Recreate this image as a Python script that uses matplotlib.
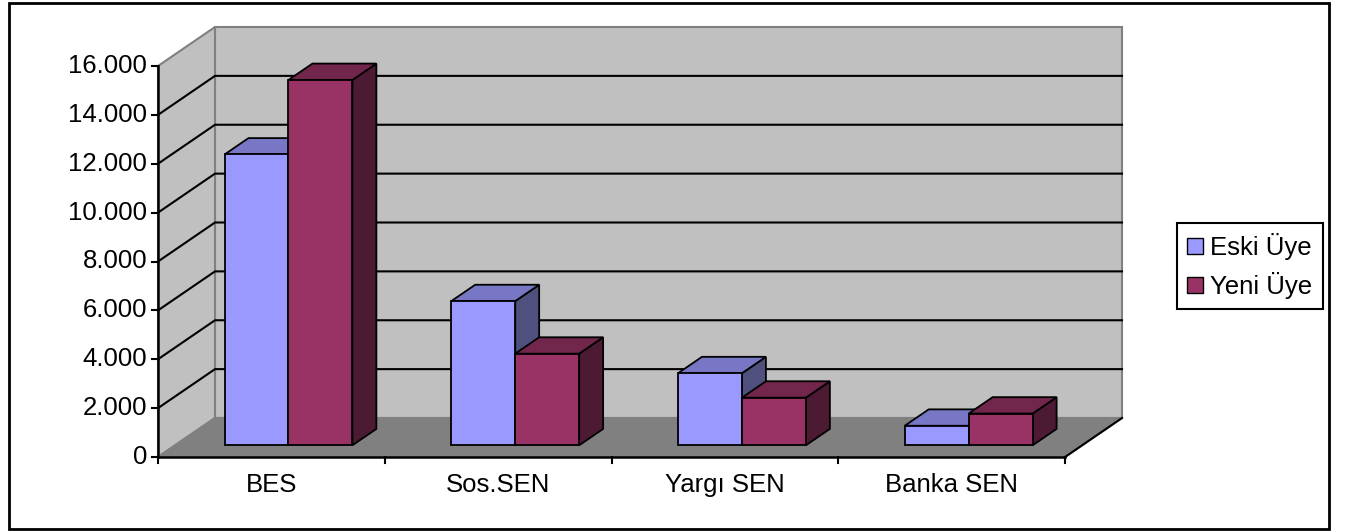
import matplotlib.pyplot as plt
from matplotlib.patches import Polygon, Rectangle, Patch

plt.rcParams['font.family'] = ['Liberation Sans', 'DejaVu Sans']

categories = ["BES", "Sos.SEN", "Yargı SEN", "Banka SEN"]
eski_uye = [11900, 5900, 2950, 800]
yeni_uye = [14950, 3750, 1950, 1300]
series_names = ["Eski Üye", "Yeni Üye"]
y_ticks = [0, 2000, 4000, 6000, 8000, 10000, 12000, 14000, 16000]

# colours: front, top, side
eski_cols = ("#9999FF", "#7777C6", "#50507F")
yeni_cols = ("#993366", "#73264C", "#4D1A33")

# pixel layout of the front plane
W, H = 1346, 531
X0_PX, Y0_PX = 158, 457          # origin of front axes (from top)
CAT_PX = 226.75                  # px per category
VAL_PX = 391 / 16000             # px per value unit
DX = 57 / CAT_PX                 # depth shift in category units
DY = 39 / VAL_PX                 # depth shift in value units
YMAX = 16000
NCAT = len(categories)

fig = plt.figure(figsize=(W / 100, H / 100), dpi=100)
ax = fig.add_axes([0, 0, 1, 1])
ax.axis('off')
ax.set_xlim(-X0_PX / CAT_PX, (W - X0_PX) / CAT_PX)
ax.set_ylim(-(H - Y0_PX) / VAL_PX, Y0_PX / VAL_PX)


def P(x, v, d):
    return (x + d * DX, v + d * DY)


def poly(pts, fc, ec='black', lw=1.3, z=2):
    ax.add_patch(Polygon(pts, closed=True, facecolor=fc, edgecolor=ec,
                         linewidth=lw, joinstyle='miter', zorder=z))


# walls and floor
poly([P(0, 0, 1), P(NCAT, 0, 1), P(NCAT, YMAX, 1), P(0, YMAX, 1)], "#C0C0C0", "#808080", 1.5, 1)
poly([P(0, 0, 0), P(0, 0, 1), P(0, YMAX, 1), P(0, YMAX, 0)], "#C0C0C0", "#808080", 1.5, 1)
poly([P(0, 0, 0), P(NCAT, 0, 0), P(NCAT, 0, 1), P(0, 0, 1)], "#808080", "#808080", 1.5, 1)

# gridlines
for v in y_ticks[1:-1]:
    xs, ys = zip(P(0, v, 0), P(0, v, 1), P(NCAT, v, 1))
    ax.plot(xs, ys, color='black', lw=1.5, zorder=1.5)

# bars
bw = 0.282
for i in range(NCAT):
    left = i + 0.5 - bw
    for j, (vals, cols) in enumerate([(eski_uye, eski_cols), (yeni_uye, yeni_cols)]):
        x0 = left + j * bw
        x1 = x0 + bw
        v = vals[i]
        f, b = 0.3, 0.72
        poly([P(x1, 0, f), P(x1, 0, b), P(x1, v, b), P(x1, v, f)], cols[2], z=3)
        poly([P(x0, v, f), P(x1, v, f), P(x1, v, b), P(x0, v, b)], cols[1], z=3)
        poly([P(x0, 0, f), P(x1, 0, f), P(x1, v, f), P(x0, v, f)], cols[0], z=3)

# axes lines
ax.plot([0, 0], [0, YMAX], color='black', lw=1.8, zorder=4)
ax.plot([0, NCAT], [0, 0], color='black', lw=1.8, zorder=4)
xs, ys = zip(P(NCAT, 0, 0), P(NCAT, 0, 1))
ax.plot(xs, ys, color='black', lw=1.5, zorder=4)

tick_x = 6 / CAT_PX
tick_y = 6 / VAL_PX
for v in y_ticks:
    ax.plot([-tick_x, 0], [v, v], color='black', lw=1.5, zorder=4)
    ax.text(-11 / CAT_PX, v, f"{v:,}".replace(",", "."), ha='right', va='center', fontsize=18.5)
for i in range(NCAT + 1):
    ax.plot([i, i], [0, -tick_y], color='black', lw=1.5, zorder=4)
for i, c in enumerate(categories):
    ax.text(i + 0.5, -28 / VAL_PX, c, ha='center', va='center', fontsize=18.5)

# legend
handles = [Patch(facecolor=eski_cols[0], edgecolor='black'),
           Patch(facecolor=yeni_cols[0], edgecolor='black')]
leg = ax.legend(handles, series_names, loc='upper left',
                bbox_to_anchor=(1177 / W, 1 - 223 / H), bbox_transform=fig.transFigure,
                frameon=True, fancybox=False, edgecolor='black', framealpha=1,
                borderaxespad=0, handlelength=0.6, handleheight=0.6,
                handletextpad=0.3, labelspacing=0.45, borderpad=0.4, fontsize=18.5)
leg.get_frame().set_linewidth(1.5)

# outer frame
fig.patches.append(Rectangle((9 / W, 1 - 529 / H), 1320 / W, 526 / H,
                             transform=fig.transFigure, fill=False,
                             edgecolor='black', linewidth=2))

fig.savefig("out.png", dpi=100)
